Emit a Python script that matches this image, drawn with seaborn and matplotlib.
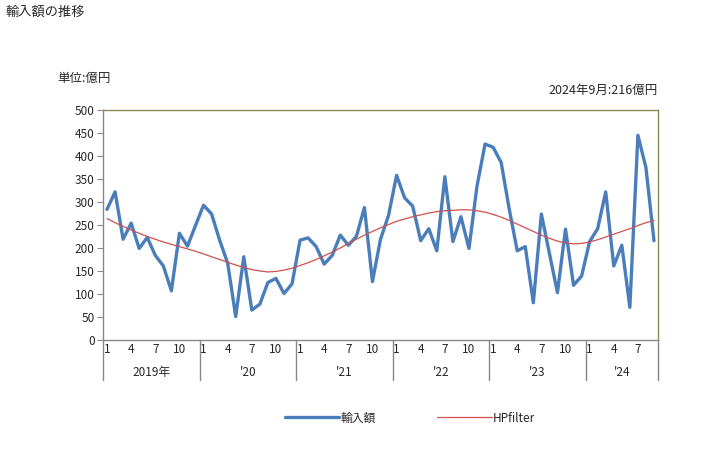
import matplotlib
matplotlib.use("Agg")
import matplotlib.pyplot as plt
import matplotlib.transforms as mtransforms
import seaborn as sns
import pandas as pd
import numpy as np

years = ["2019年", "'20", "'21", "'22", "'23", "'24"]
month_ticks = [1, 4, 7, 10]

imports = [284, 322, 219, 254, 199, 223, 184, 161, 107, 232, 204, 249,
           293, 274, 217, 167, 51, 181, 65, 78, 125, 134, 101, 122,
           217, 222, 203, 165, 184, 228, 206, 225, 288, 127, 219, 271,
           358, 309, 291, 216, 242, 194, 355, 214, 268, 199, 335, 426,
           419, 386, 285, 194, 203, 81, 274, 188, 103, 241, 119, 139,
           214, 242, 322, 161, 206, 71, 445, 375, 216]

hpfilter = [264, 255, 247, 239, 232, 225, 219, 213, 208, 203, 198, 193,
            187, 181, 175, 169, 163, 158, 153, 150, 148, 149, 152, 156,
            162, 168, 175, 183, 191, 200, 210, 219, 228, 236, 244, 251,
            258, 263, 268, 272, 276, 279, 281, 282, 283, 283, 281, 278,
            273, 267, 260, 252, 244, 236, 228, 221, 215, 211, 209, 210,
            213, 218, 224, 230, 236, 242, 249, 255, 260]

n = len(imports)
idx = np.arange(n)
df = pd.DataFrame({"idx": idx, "輸入額": imports, "HPfilter": hpfilter})

sns.set_theme(style="white")
plt.rcParams['font.family'] = ['Noto Sans CJK JP', 'DejaVu Sans']

fig = plt.figure(figsize=(7.28, 4.5), dpi=100)
ax = fig.add_axes([103/728, 1 - 340/450, 555/728, 230/450])

blue = "#4A7EBB"
red = "#D0504D"
sns.lineplot(data=df, x="idx", y="輸入額", ax=ax, color=blue, linewidth=2.4, label="輸入額", legend=False)
sns.lineplot(data=df, x="idx", y="HPfilter", ax=ax, color=red, linewidth=0.9, label="HPfilter", legend=False)

ax.set_xlim(-0.5, n - 0.5)
ax.set_ylim(0, 500)
ax.set_yticks(np.arange(0, 501, 50))
ax.tick_params(axis='y', labelsize=8.5, length=4, width=0.8, color="#888888", direction='out', left=True, pad=2)
ax.set_xlabel("")
ax.set_ylabel("")

# month ticks
xt = [i for i in idx if (i % 12) + 1 in month_ticks]
ax.set_xticks(xt)
ax.set_xticklabels([str((i % 12) + 1) for i in xt], fontsize=8.5)
ax.tick_params(axis='x', length=0, pad=2)

for s in ["left", "bottom"]:
    ax.spines[s].set_color("#888888")
    ax.spines[s].set_linewidth(1)
for s in ["top", "right"]:
    ax.spines[s].set_color("#8F8A50")
    ax.spines[s].set_linewidth(1)

trans = mtransforms.blended_transform_factory(ax.transData, ax.transAxes)
bounds = list(np.arange(-0.5, n, 12)) + [n - 0.5]
for b in bounds:
    ax.plot([b, b], [0, -0.175], transform=trans, color="#888888", lw=1, clip_on=False)
for k, yl in enumerate(years):
    start = -0.5 + 12 * k
    end = min(start + 12, n - 0.5)
    ax.text((start + end) / 2, -0.14, yl, transform=trans, ha='center', va='center', fontsize=8.5)

fig.text(5/728, 1 - 12/450, "輸入額の推移", fontsize=9.5, ha='left', va='center')
fig.text(57/728, 1 - 78/450, "単位:億円", fontsize=9, ha='left', va='center')
fig.text(658/728, 1 - 90/450, "2024年9月:216億円", fontsize=9, ha='right', va='center')

handles, labels = ax.get_legend_handles_labels()
fig.legend(handles, labels, loc='center', bbox_to_anchor=(410/728, 1 - 418/450), ncol=2,
           frameon=False, fontsize=8.5, handlelength=4.6, columnspacing=5.2, handletextpad=0.1)

fig.savefig("out.png", dpi=100)
